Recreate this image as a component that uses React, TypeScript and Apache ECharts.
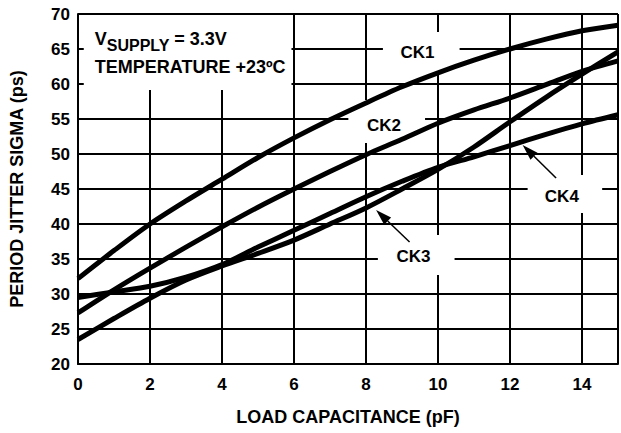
import React, { useEffect, useRef } from "react";
import * as echarts from "echarts";

const xValues = [0, 1, 2, 3, 4, 5, 6, 7, 8, 9, 10, 11, 12, 13, 14, 15];
const ck1 = [32.2, 36.2, 40.0, 43.3, 46.4, 49.5, 52.3, 54.9, 57.3, 59.6, 61.6, 63.4, 65.0, 66.4, 67.6, 68.4];
const ck2 = [27.3, 30.6, 33.7, 36.7, 39.6, 42.4, 45.0, 47.5, 49.9, 52.1, 54.4, 56.3, 58.0, 59.9, 61.8, 63.3];
const ck3 = [23.5, 26.5, 29.4, 32.0, 34.0, 35.8, 37.7, 40.0, 42.3, 45.0, 47.8, 51.0, 54.6, 58.1, 61.4, 64.6];
const ck4 = [29.5, 30.3, 31.1, 32.4, 34.2, 36.7, 39.1, 41.5, 43.9, 46.1, 48.1, 49.6, 51.2, 52.8, 54.3, 55.6];
const seriesNames = ["CK1", "CK2", "CK3", "CK4"];
const seriesValues = [ck1, ck2, ck3, ck4];

const xTitle = "LOAD CAPACITANCE (pF)";
const yTitle = "PERIOD JITTER SIGMA (ps)";
const infoLine1 = ["V", "SUPPLY", " = 3.3V"];
const infoLine2 = "TEMPERATURE +23ºC";

// annotation anchors in data coordinates
const infoBox = [[0.16, 69.86], [5.93, 59.14]];
const labelBoxes = [
  [[8.47, 67.43], [10.6, 61.29]],
  [[7.51, 57.71], [9.64, 51.57]],
  [[8.33, 38.43], [10.46, 32.71]],
  [[12.49, 47.0], [14.56, 41.57]],
];
const labelPoints = [[9.43, 64.43], [8.5, 54.14], [9.32, 35.29], [13.44, 43.86]];
const arrows = [
  [[9.21, 37.43], [8.28, 42.0]],
  [[13.28, 46.57], [12.35, 51.29]],
];

const FONT = "'Liberation Sans', Arial, sans-serif";

function measure(text: string, size: number) {
  const c = document.createElement("canvas").getContext("2d")!;
  c.font = `bold ${size}px ${FONT}`;
  return c.measureText(text).width;
}

export default function App() {
  const ref = useRef<HTMLDivElement>(null);
  useEffect(() => {
    const chart = echarts.init(ref.current!, null, { renderer: "svg" });
    const axisText = { color: "#000", fontWeight: "bold" as const, fontSize: 17, fontFamily: FONT };
    chart.setOption({
      animation: false,
      backgroundColor: "#fff",
      grid: { left: 75, top: 14, width: 549, height: 350 },
      xAxis: {
        type: "value",
        min: 0,
        max: 15,
        interval: 2,
        axisLine: { show: true, lineStyle: { color: "#000", width: 2 } },
        axisTick: { show: false },
        splitLine: { show: true, lineStyle: { color: "#000", width: 2 } },
        axisLabel: { ...axisText, margin: 12, formatter: (v: number) => (v === 15 ? "" : String(v)) },
        name: xTitle,
        nameLocation: "middle",
        nameGap: 44,
        nameTextStyle: { ...axisText, fontSize: 18 },
      },
      yAxis: {
        type: "value",
        min: 20,
        max: 70,
        interval: 5,
        axisLine: { show: true, lineStyle: { color: "#000", width: 2 } },
        axisTick: { show: false },
        splitLine: { show: true, lineStyle: { color: "#000", width: 2 } },
        axisLabel: { ...axisText, margin: 8 },
        name: yTitle,
        nameLocation: "middle",
        nameRotate: 90,
        nameGap: 52,
        nameTextStyle: { ...axisText, fontSize: 18 },
      },
      series: seriesValues.map((vals, i) => ({
        name: seriesNames[i],
        type: "line",
        data: xValues.map((x, j) => [x, vals[j]]),
        smooth: 0.3,
        showSymbol: false,
        symbol: "none",
        lineStyle: { color: "#000", width: 5 },
        z: 5,
      })),
    });

    const px = (p: number[]) => chart.convertToPixel({ gridIndex: 0 }, p) as number[];
    const graphics: any[] = [];
    const rectFrom = (box: number[][]) => {
      const a = px(box[0]);
      const b = px(box[1]);
      return { type: "rect", z: 1, shape: { x: a[0], y: a[1], width: b[0] - a[0], height: b[1] - a[1] }, style: { fill: "#fff" } };
    };
    graphics.push(rectFrom(infoBox));
    labelBoxes.forEach((b) => graphics.push(rectFrom(b)));
    labelPoints.forEach((p, i) => {
      const c = px(p);
      graphics.push({
        type: "text", z: 101, x: c[0], y: c[1],
        style: { text: seriesNames[i], fill: "#000", font: `bold 17px ${FONT}`, align: "center", verticalAlign: "middle" },
      });
    });
    // info text
    const ib = px(infoBox[0]);
    const tx = ib[0] + 11;
    const wV = measure(infoLine1[0], 18);
    const wS = measure(infoLine1[1], 16);
    const base1 = ib[1] + 24;
    graphics.push({ type: "text", z: 101, x: tx, y: base1, style: { text: infoLine1[0], fill: "#000", font: `bold 18px ${FONT}`, align: "left", verticalAlign: "middle" } });
    graphics.push({ type: "text", z: 101, x: tx + wV, y: base1 + 7, style: { text: infoLine1[1], fill: "#000", font: `bold 16px ${FONT}`, align: "left", verticalAlign: "middle" } });
    graphics.push({ type: "text", z: 101, x: tx + wV + wS, y: base1, style: { text: infoLine1[2], fill: "#000", font: `bold 18px ${FONT}`, align: "left", verticalAlign: "middle" } });
    graphics.push({ type: "text", z: 101, x: tx, y: base1 + 28, style: { text: infoLine2, fill: "#000", font: `bold 18px ${FONT}`, align: "left", verticalAlign: "middle" } });
    // arrows
    arrows.forEach((ar) => {
      const s = px(ar[0]);
      const e = px(ar[1]);
      const dx = e[0] - s[0];
      const dy = e[1] - s[1];
      const len = Math.hypot(dx, dy);
      const ux = dx / len;
      const uy = dy / len;
      const hl = 16;
      const hw = 5;
      const bx = e[0] - ux * hl;
      const by = e[1] - uy * hl;
      graphics.push({ type: "line", z: 101, shape: { x1: s[0], y1: s[1], x2: bx, y2: by }, style: { stroke: "#000", lineWidth: 1.5 } });
      graphics.push({
        type: "polygon", z: 101,
        shape: { points: [[e[0], e[1]], [bx - uy * hw, by + ux * hw], [bx + uy * hw, by - ux * hw]] },
        style: { fill: "#000" },
      });
    });
    chart.setOption({ graphic: graphics });
    return () => chart.dispose();
  }, []);
  return <div ref={ref} style={{ position: "fixed", left: 0, top: 0, width: 621, height: 433 }} />;
}
